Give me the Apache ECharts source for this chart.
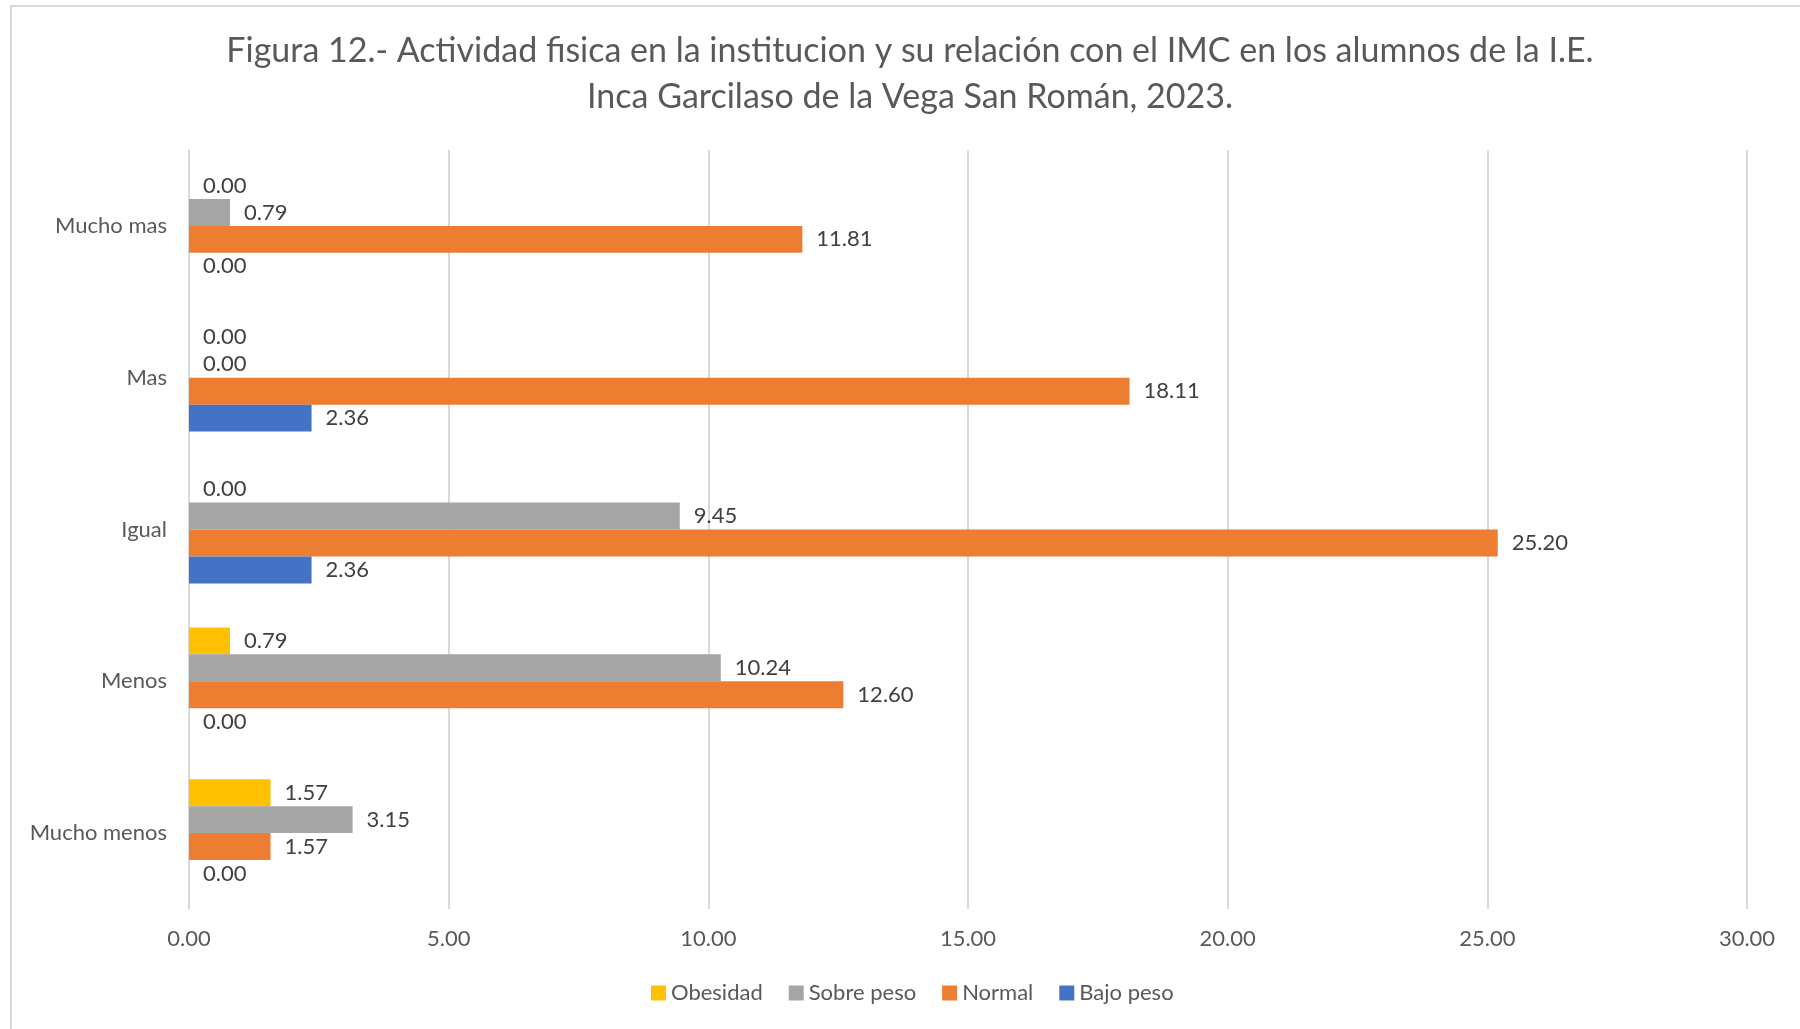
<!DOCTYPE html>
<html>
<head>
<meta charset="utf-8">
<script src="https://cdn.jsdelivr.net/npm/echarts@6/dist/echarts.min.js"></script>
<style>
html,body{margin:0;padding:0;background:#fff;}
#c{width:1800px;height:1029px;}
</style>
</head>
<body>
<div id="c"></div>
<script>
const categories = ['Mucho mas', 'Mas', 'Igual', 'Menos', 'Mucho menos'];
const obesidad = [0.00, 0.00, 0.00, 0.79, 1.57];
const sobrePeso = [0.79, 0.00, 9.45, 10.24, 3.15];
const normal = [11.81, 18.11, 25.20, 12.60, 1.57];
const bajoPeso = [0.00, 2.36, 2.36, 0.00, 0.00];
const xTicks = [0, 5, 10, 15, 20, 25, 30];

const FONT = 'Lato';
const TXT = '#595959';

function mk(name, data, color) {
  return {
    name: name,
    type: 'bar',
    data: data,
    barGap: '0%',
    barCategoryGap: '29%',
    itemStyle: { color: color },
    label: {
      show: true,
      position: 'right',
      distance: 14,
      color: '#404040',
      fontFamily: FONT,
      fontSize: 22,
      formatter: p => p.value.toFixed(2)
    }
  };
}

const chart = echarts.init(document.getElementById('c'));
chart.setOption({
  backgroundColor: '#fff',
  animation: false,
  title: {
    text: 'Figura 12.- Actividad fisica en la institucion y su relación con el IMC en los alumnos de la I.E.\nInca Garcilaso de la Vega San Román, 2023.',
    left: 905,
    textAlign: 'center',
    top: 23,
    textStyle: { fontFamily: FONT, fontSize: 34, fontWeight: 'normal', color: TXT, lineHeight: 46 }
  },
  graphic: [{
    type: 'rect',
    shape: { x: 11, y: 6, width: 1820, height: 1040 },
    style: { fill: 'none', stroke: '#d9d9d9', lineWidth: 2 },
    silent: true
  }],
  legend: {
    data: ['Obesidad', 'Sobre peso', 'Normal', 'Bajo peso'],
    bottom: 20,
    left: 646,
    icon: 'rect',
    itemWidth: 15,
    itemHeight: 15,
    itemGap: 26,
    textStyle: { fontFamily: FONT, fontSize: 22, color: TXT }
  },
  grid: { left: 189, right: 53, top: 150, bottom: 120, containLabel: false },
  xAxis: {
    type: 'value',
    min: 0, max: 30, interval: 5,
    axisLine: { show: false },
    axisTick: { show: false },
    splitLine: { lineStyle: { color: '#d9d9d9', width: 2 } },
    axisLabel: {
      fontFamily: FONT, fontSize: 22, color: TXT, margin: 19,
      formatter: v => xTicks.includes(v) ? v.toFixed(2) : ''
    }
  },
  yAxis: {
    type: 'category',
    data: categories,
    inverse: true,
    axisLine: { show: true, lineStyle: { color: '#d9d9d9', width: 2 } },
    axisTick: { show: false },
    axisLabel: { fontFamily: FONT, fontSize: 22, color: TXT, margin: 22 }
  },
  series: [
    mk('Obesidad', obesidad, '#FFC000'),
    mk('Sobre peso', sobrePeso, '#A5A5A5'),
    mk('Normal', normal, '#ED7D31'),
    mk('Bajo peso', bajoPeso, '#4472C4')
  ]
});
</script>
</body>
</html>
